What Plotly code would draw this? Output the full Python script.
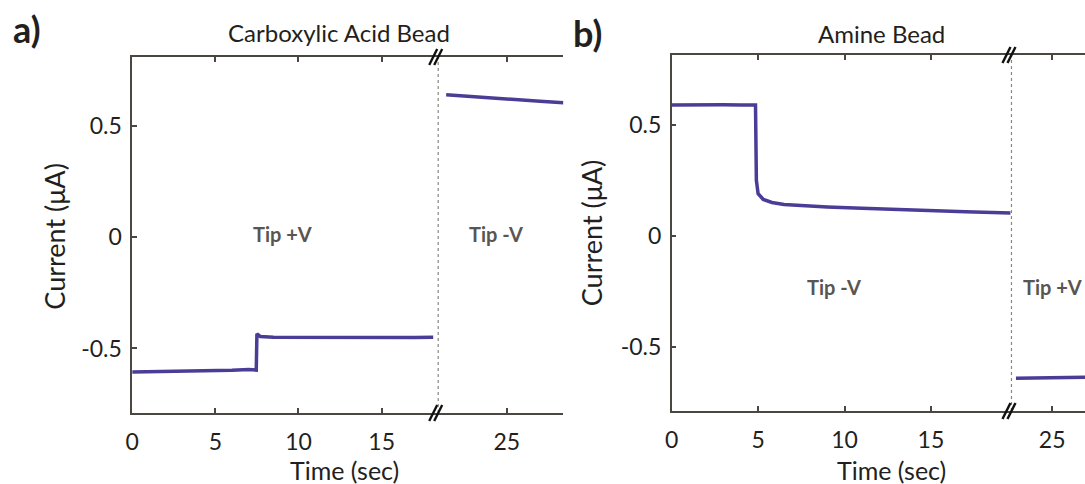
import plotly.graph_objects as go

W, H = 1085, 484

# ---------------- data ----------------
# Panel a: Carboxylic Acid Bead
a_t_pre = [0, 1, 2, 3, 4, 5, 6, 7.0, 7.46, 7.5, 7.7, 8.5, 10, 11.5, 13, 14.5, 16, 17, 18.1]
a_i_pre = [-0.606, -0.605, -0.604, -0.603, -0.601, -0.600, -0.598, -0.595, -0.597, -0.434, -0.446, -0.449,
           -0.450, -0.449, -0.451, -0.450, -0.452, -0.451, -0.450]
a_t_post = [21.35, 22, 23, 24, 25, 26, 27, 28.41]
a_i_post = [0.640, 0.637, 0.633, 0.628, 0.623, 0.617, 0.611, 0.604]

# Panel b: Amine Bead
b_t_pre = [0, 1, 2, 3, 4, 4.85, 4.9, 5.0, 5.3, 5.8, 6.5, 7.5, 9, 11, 13, 15, 17, 19.6]
b_i_pre = [0.590, 0.591, 0.590, 0.591, 0.590, 0.590, 0.25, 0.19, 0.164, 0.150, 0.141, 0.136,
           0.130, 0.124, 0.118, 0.113, 0.108, 0.103]
b_t_post = [22.9, 23.5, 24, 25, 26, 26.9]
b_i_post = [-0.642, -0.641, -0.641, -0.640, -0.639, -0.638]

x_ticks = [0, 5, 10, 15, 20, 25, 30]
y_ticks = [-0.5, 0, 0.5]
y_tick_text = ["-0.5", "0", "0.5"]

# ---------------- styling ----------------
LINE = "#4a3d96"
AX = "#4a4642"
TXT = "#231f20"
FONT = "Lato"


def px(x):
    return x / W


def py(y):
    return 1 - y / H


fig = go.Figure()

for xs, ys, xa, ya in ((a_t_pre, a_i_pre, "x", "y"), (a_t_post, a_i_post, "x2", "y"),
                       (b_t_pre, b_i_pre, "x3", "y2"), (b_t_post, b_i_post, "x4", "y2")):
    fig.add_trace(go.Scatter(x=xs, y=ys, xaxis=xa, yaxis=ya, mode="lines",
                             line=dict(color=LINE, width=3.5), showlegend=False))

tickfont = dict(family=FONT, size=23, color=TXT)
common_x = dict(showline=True, linecolor=AX, linewidth=1.5, ticks="inside", ticklen=5,
                tickcolor=AX, tickwidth=1.5, mirror="ticks", showgrid=False, zeroline=False,
                tickvals=x_ticks, tickfont=tickfont, ticklabelstandoff=8)
common_y = dict(showline=True, linecolor=AX, linewidth=1.5, ticks="inside", ticklen=5,
                tickcolor=AX, tickwidth=1.5, showgrid=False, zeroline=False,
                tickvals=y_ticks, ticktext=y_tick_text, tickfont=tickfont, ticklabelstandoff=4)

# geometry (pixels)
a_left, a_brk, a_right, a_top, a_bot = 126, 434, 560, 57, 413
b_left, b_brk, b_right, b_top, b_bot = 669, 1011, 1085, 55, 411

fig.update_layout(
    width=W, height=H, margin=dict(l=0, r=0, t=0, b=0),
    paper_bgcolor="white", plot_bgcolor="white",
    xaxis=dict(common_x, domain=[px(a_left), px(a_brk)], range=[0, 18.4], anchor="y"),
    xaxis2=dict(common_x, domain=[px(a_brk), px(a_right)], range=[20.87, 28.41], anchor="y"),
    xaxis3=dict(common_x, domain=[px(b_left), px(b_brk)], range=[0, 19.66], anchor="y2"),
    xaxis4=dict(common_x, domain=[px(b_brk), px(b_right)], range=[22.64, 26.9], anchor="y2"),
    yaxis=dict(common_y, domain=[py(a_bot), py(a_top)], range=[-0.79, 0.81], anchor="x"),
    yaxis2=dict(common_y, domain=[py(b_bot), py(b_top)], range=[-0.79, 0.815], anchor="x3"),
    # right spine of panel a
    yaxis3=dict(common_y, domain=[py(a_bot), py(a_top)], range=[-0.79, 0.81], anchor="x2",
                side="right", showticklabels=False, overlaying="y"),
)

shapes = []
# dotted break lines and break marks
for xr, yr in (("x2 domain", "y domain"), ("x4 domain", "y2 domain")):
    shapes.append(dict(type="line", xref=xr, yref=yr, x0=0, x1=0, y0=0, y1=1,
                       line=dict(color="#8a8580", width=1.2, dash="dot")))
    for yanchor in (0, 1):
        for off in (-5, 0):
            shapes.append(dict(type="line", xref=xr, yref=yr, xsizemode="pixel", ysizemode="pixel",
                               xanchor=0, yanchor=yanchor, x0=off - 4, x1=off + 4, y0=-8, y1=8,
                               line=dict(color="#111111", width=2.4)))
fig.update_layout(shapes=shapes)

ann = []


def text(x, y, s, size, bold=False, color=TXT, angle=0):
    ann.append(dict(xref="paper", yref="paper", x=px(x), y=py(y), text=("<b>%s</b>" % s) if bold else s,
                    showarrow=False, xanchor="center", yanchor="middle", textangle=angle,
                    font=dict(family=FONT, size=size, color=color)))


text(20, 29, "a)", 36, bold=True)
text(584, 33, "b)", 36, bold=True)
text(334, 33, "Carboxylic Acid Bead", 24)
text(880, 34, "Amine Bead", 24)
text(340, 470, "Time (sec)", 25)
text(890, 470, "Time (sec)", 25)
text(48, 236, "Current (\u03bcA)", 27, angle=-90)
text(588, 233, "Current (\u03bcA)", 27, angle=-90)
GRAY = "#5a5550"
text(277, 234, "Tip +V", 20, bold=True, color=GRAY)
text(492, 234, "Tip -V", 20, bold=True, color=GRAY)
text(832, 287, "Tip -V", 20, bold=True, color=GRAY)
text(1052, 287, "Tip +V", 20, bold=True, color=GRAY)
fig.update_layout(annotations=ann)

fig.write_html("out.html")
